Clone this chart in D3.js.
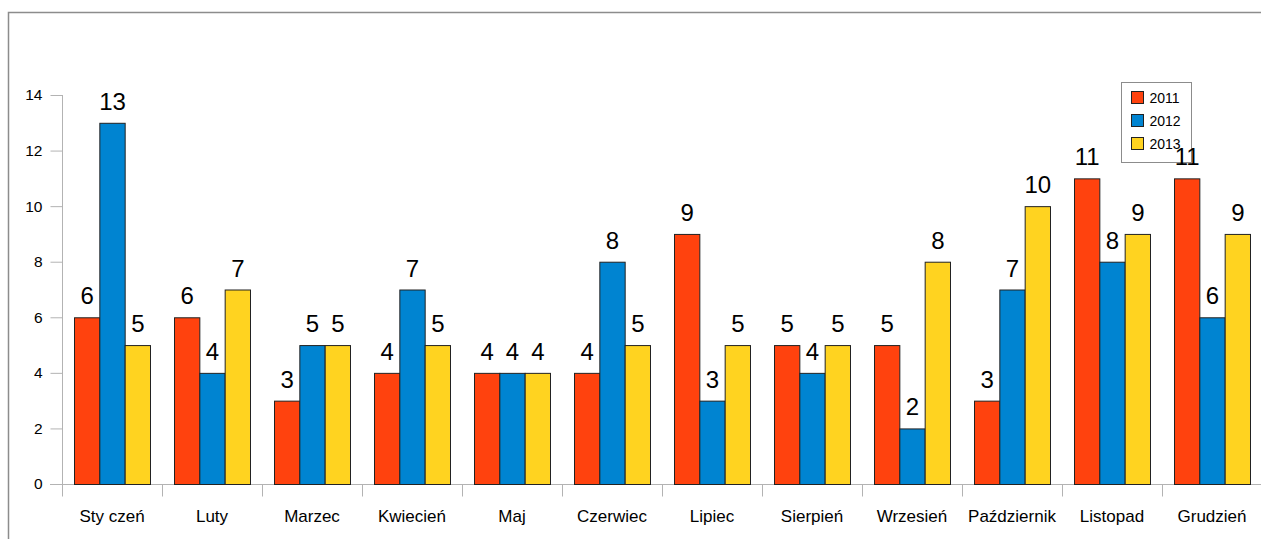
<!DOCTYPE html>
<html>
<head>
<meta charset="utf-8">
<script src="https://cdn.jsdelivr.net/npm/d3@7"></script>
<style>
  body { margin: 0; background: #fff; }
  svg { display: block; font-family: "Liberation Sans", Arial, sans-serif; }
</style>
</head>
<body>
<svg id="chart" width="1261" height="539"></svg>
<script>
var months = ['Sty czeń', 'Luty', 'Marzec', 'Kwiecień', 'Maj', 'Czerwiec', 'Lipiec', 'Sierpień', 'Wrzesień', 'Październik', 'Listopad', 'Grudzień']
var years = ['2011', '2012', '2013']
var v2011 = [6, 6, 3, 4, 4, 4, 9, 5, 5, 3, 11, 11]
var v2012 = [13, 4, 5, 7, 4, 8, 3, 4, 2, 7, 8, 6]
var v2013 = [5, 7, 5, 5, 4, 5, 5, 5, 8, 10, 9, 9]
var yTicks = [0, 2, 4, 6, 8, 10, 12, 14]
var colors = ['#ff420e', '#0084d1', '#ffd320']

var series = [v2011, v2012, v2013]
var rows = months.map((m, i) => ({month: m, vals: series.map((s, j) => ({year: years[j], v: s[i]}))}))

var svg = d3.select('#chart')

// page frame
svg.append('path')
  .attr('d', 'M 8.5 539 V 12.5 H 1261')
  .attr('fill', 'none').attr('stroke', '#8c8c8c').attr('stroke-width', 1.5)

var x = d3.scaleBand().domain(months).range([62, 1262])
var xi = d3.scaleBand().domain(years).range([12, 88])
var y = d3.scaleLinear().domain([0, 14]).range([484, 95])

var gridCol = '#b3b3b3'

// y axis
var yAxis = svg.append('g').attr('transform', 'translate(62.5,0)')
  .call(d3.axisLeft(y).tickValues(yTicks).tickSize(12).tickPadding(8))
yAxis.select('.domain').attr('stroke', gridCol).attr('d', 'M0,' + y(14) + 'V' + (y(0) + 12))
yAxis.selectAll('.tick line').attr('stroke', gridCol)
yAxis.selectAll('.tick text').attr('font-size', 15.5).attr('fill', '#000')
  .attr('font-family', '"Liberation Sans", Arial, sans-serif')

// x axis
var xAxis = svg.append('g').attr('transform', 'translate(0,' + (y(0) + 0.5) + ')')
xAxis.append('line').attr('x1', 50).attr('x2', 1261).attr('stroke', gridCol)
xAxis.selectAll('line.tk').data(months).join('line').attr('class', 'tk')
  .attr('x1', d => x(d) + 0.5).attr('x2', d => x(d) + 0.5)
  .attr('y1', 0).attr('y2', 12).attr('stroke', gridCol)
xAxis.selectAll('text').data(months).join('text')
  .attr('x', d => x(d) + x.bandwidth() / 2).attr('y', 37)
  .attr('text-anchor', 'middle').attr('font-size', 17).text(d => d)

// legend (drawn under the value labels, as in the original)
var lg = svg.append('g').attr('transform', 'translate(1121.5,82.5)')
lg.append('rect').attr('width', 70).attr('height', 80).attr('fill', '#fff').attr('stroke', '#8c8c8c')
var li = lg.selectAll('g').data(years).join('g')
  .attr('transform', (d, i) => 'translate(10,' + (9 + i * 23) + ')')
li.append('rect').attr('width', 12).attr('height', 12)
  .attr('fill', (d, i) => colors[i]).attr('stroke', '#222')
li.append('text').attr('x', 18).attr('y', 11).attr('font-size', 14).text(d => d)

// bars
var groups = svg.selectAll('g.grp').data(rows).join('g').attr('class', 'grp')
  .attr('transform', d => 'translate(' + x(d.month) + ',0)')

groups.selectAll('rect').data(d => d.vals).join('rect')
  .attr('x', d => xi(d.year) + 0.5)
  .attr('width', xi.bandwidth())
  .attr('y', d => y(d.v) + 0.5)
  .attr('height', d => y(0) - y(d.v))
  .attr('fill', (d, i) => colors[i])
  .attr('stroke', '#222').attr('stroke-width', 1)

groups.selectAll('text').data(d => d.vals).join('text')
  .attr('x', d => xi(d.year) + xi.bandwidth() / 2 + 0.5)
  .attr('y', d => y(d.v) - 13)
  .attr('text-anchor', 'middle').attr('font-size', 24).text(d => d.v)
</script>
</body>
</html>
